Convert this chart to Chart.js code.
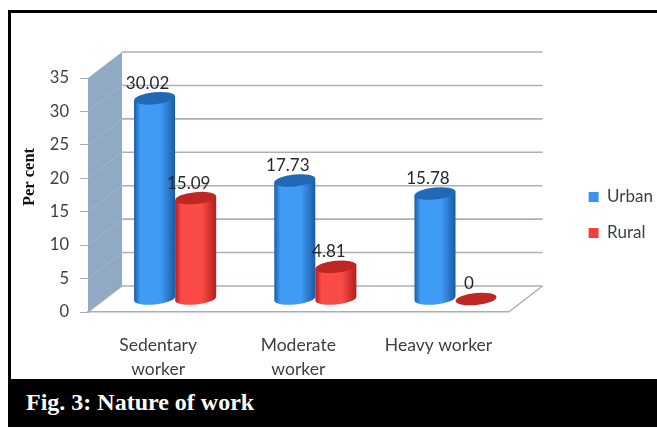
<!DOCTYPE html>
<html>
<head>
<meta charset="utf-8">
<style>
  html, body { margin: 0; padding: 0; background: #fff; overflow: hidden; }
  #frame { position: absolute; left: 8px; top: 10px; width: 649px; height: 417px; background: #000; }
  #plot { position: absolute; left: 11px; top: 13px; width: 646px; height: 366px; background: #fff; }
  #caption { position: absolute; left: 26px; top: 389px; color: #fff; font: bold 24px "Liberation Serif", serif; }
  canvas { position: absolute; left: 0; top: 0; }
</style>
<script src="https://cdn.jsdelivr.net/npm/chart.js@4"></script>
</head>
<body>
<div id="frame"></div>
<div id="plot"></div>
<div id="caption">Fig. 3: Nature of work</div>
<canvas id="workChart" width="657" height="428"></canvas>
<script>
const categories = [['Sedentary', 'worker'], ['Moderate', 'worker'], 'Heavy worker'];
const urban = [30.02, 17.73, 15.78];
const rural = [15.09, 4.81, 0];
const yTicks = [0, 5, 10, 15, 20, 25, 30, 35];

const uiFont = 'Lato, "Open Sans", sans-serif';
const DEPTH_X = 34, DEPTH_Y = 26; // how far the back wall sits from the front edge
const TILT = -0.1;
const CAP_RY = 6;

// colours for each cylinder: edge, middle, cap
const shades = [
    { edge: '#1a5ba6', mid: '#3f9cf5', cap: '#1f69b6' },
    { edge: '#b41d1c', mid: '#fb4b46', cap: '#bf2723' }
];

// back wall, side wall and floor edge
const wallPlugin = {
    id: 'wall',
    beforeDatasetsDraw(chart) {
        const { ctx, chartArea: a, scales: { y } } = chart;
        ctx.save();
        ctx.fillStyle = '#90a9c4';
        ctx.beginPath();
        ctx.moveTo(a.left, a.top);
        ctx.lineTo(a.left + DEPTH_X, a.top - DEPTH_Y);
        ctx.lineTo(a.left + DEPTH_X, a.bottom - DEPTH_Y);
        ctx.lineTo(a.left, a.bottom);
        ctx.closePath();
        ctx.fill();

        yTicks.forEach(v => {
            const py = y.getPixelForValue(v);
            // faint line across the side wall
            if (v > 0 && v < 35) {
                ctx.strokeStyle = 'rgba(200,212,226,0.3)';
                ctx.lineWidth = 1;
                ctx.beginPath();
                ctx.moveTo(a.left, py);
                ctx.lineTo(a.left + DEPTH_X, py - DEPTH_Y);
                ctx.stroke();
            }
            ctx.strokeStyle = '#aab1b9';
            ctx.lineWidth = 1.6;
            ctx.beginPath();
            ctx.moveTo(a.left + DEPTH_X, py - DEPTH_Y);
            ctx.lineTo(a.right + DEPTH_X, py - DEPTH_Y);
            ctx.stroke();
        });

        // floor edges
        ctx.strokeStyle = '#a8aeb5';
        ctx.lineWidth = 1.4;
        ctx.beginPath();
        ctx.moveTo(a.left, a.bottom);
        ctx.lineTo(a.left + DEPTH_X, a.bottom - DEPTH_Y);
        ctx.moveTo(a.right, a.bottom);
        ctx.lineTo(a.right + DEPTH_X, a.bottom - DEPTH_Y);
        ctx.stroke();
        ctx.restore();
    }
};

function drawCylinder(ctx, bar, shade) {
    const cx = bar.x + DEPTH_X / 2;
    const top = bar.y - DEPTH_Y / 2;
    const base = bar.base - DEPTH_Y / 2;
    const rx = bar.width / 2;
    const lift = Math.sin(TILT) * rx;

    if (base - top > 0.5) {
        const grad = ctx.createLinearGradient(cx - rx, 0, cx + rx, 0);
        grad.addColorStop(0, shade.edge);
        grad.addColorStop(0.15, shade.mid);
        grad.addColorStop(0.65, shade.mid);
        grad.addColorStop(1, shade.edge);
        ctx.fillStyle = grad;
        ctx.beginPath();
        ctx.moveTo(cx - rx, top - lift);
        ctx.lineTo(cx + rx, top + lift);
        ctx.lineTo(cx + rx, base + lift);
        ctx.ellipse(cx, base, rx, CAP_RY, TILT, 0, Math.PI);
        ctx.closePath();
        ctx.fill();
    }
    ctx.fillStyle = shade.cap;
    ctx.beginPath();
    ctx.ellipse(cx, top, rx, CAP_RY, TILT, 0, Math.PI * 2);
    ctx.fill();
}

const cylinderPlugin = {
    id: 'cylinders',
    beforeDatasetDraw(chart, args) {
        const ctx = chart.ctx;
        ctx.save();
        args.meta.data.forEach(bar => drawCylinder(ctx, bar, shades[args.index]));
        ctx.restore();
        return false;
    },
    afterDatasetsDraw(chart) {
        const ctx = chart.ctx;
        ctx.save();
        ctx.font = '17px ' + uiFont;
        ctx.fillStyle = '#26282b';
        ctx.textAlign = 'center';
        ctx.textBaseline = 'middle';
        chart.data.datasets.forEach((ds, i) => {
            chart.getDatasetMeta(i).data.forEach((bar, j) => {
                ctx.fillText(String(ds.data[j]), bar.x + DEPTH_X / 2 - 7, bar.y - DEPTH_Y / 2 - 15);
            });
        });
        // axis title sits above the middle of the scale
        ctx.font = 'bold 16.5px "Liberation Serif", serif';
        ctx.fillStyle = '#111';
        ctx.translate(30, 177);
        ctx.rotate(-Math.PI / 2);
        ctx.fillText('Per cent', 0, 0);
        ctx.restore();
    }
};

// push the legend out to the right of the plot
const legendShift = {
    id: 'legendShift',
    afterLayout(chart) {
        const lg = chart.legend;
        lg.left += 61; lg.right += 61;
        lg.top -= 38; lg.bottom -= 38;
    }
};

new Chart(document.getElementById('workChart'), {
    type: 'bar',
    data: {
        labels: categories,
        datasets: [
            { label: 'Urban', data: urban, backgroundColor: '#3a94ee', categoryPercentage: 0.586, barPercentage: 1 },
            { label: 'Rural', data: rural, backgroundColor: '#f2403c', categoryPercentage: 0.586, barPercentage: 1 }
        ]
    },
    options: {
        responsive: false,
        animation: false,
        layout: { padding: { left: 20, top: 78, right: 55, bottom: 0 } },
        plugins: {
            tooltip: { enabled: false },
            legend: {
                position: 'right',
                labels: {
                    boxWidth: 10, boxHeight: 10, padding: 19,
                    color: '#3c3f42',
                    font: { family: uiFont, size: 17 }
                }
            }
        },
        scales: {
            x: {
                afterFit: s => { s.height = 116; },
                grid: { display: false },
                border: { display: true, color: '#a8aeb5', width: 1.4 },
                ticks: { color: '#3c3f42', font: { family: uiFont, size: 17.5, lineHeight: 1.33 }, padding: 14, maxRotation: 0 }
            },
            y: {
                min: 0, max: 35,
                afterFit: s => { s.width = 68; },
                afterBuildTicks: s => { s.ticks = yTicks.map(v => ({ value: v })); },
                grid: { drawOnChartArea: false, drawTicks: true, tickLength: 8, color: '#a8aeb5' },
                border: { display: true, color: '#a8aeb5', width: 1 },
                ticks: { color: '#3c3f42', font: { family: uiFont, size: 16.5 }, padding: 11 }
            }
        }
    },
    plugins: [wallPlugin, cylinderPlugin, legendShift]
});
</script>
</body>
</html>
